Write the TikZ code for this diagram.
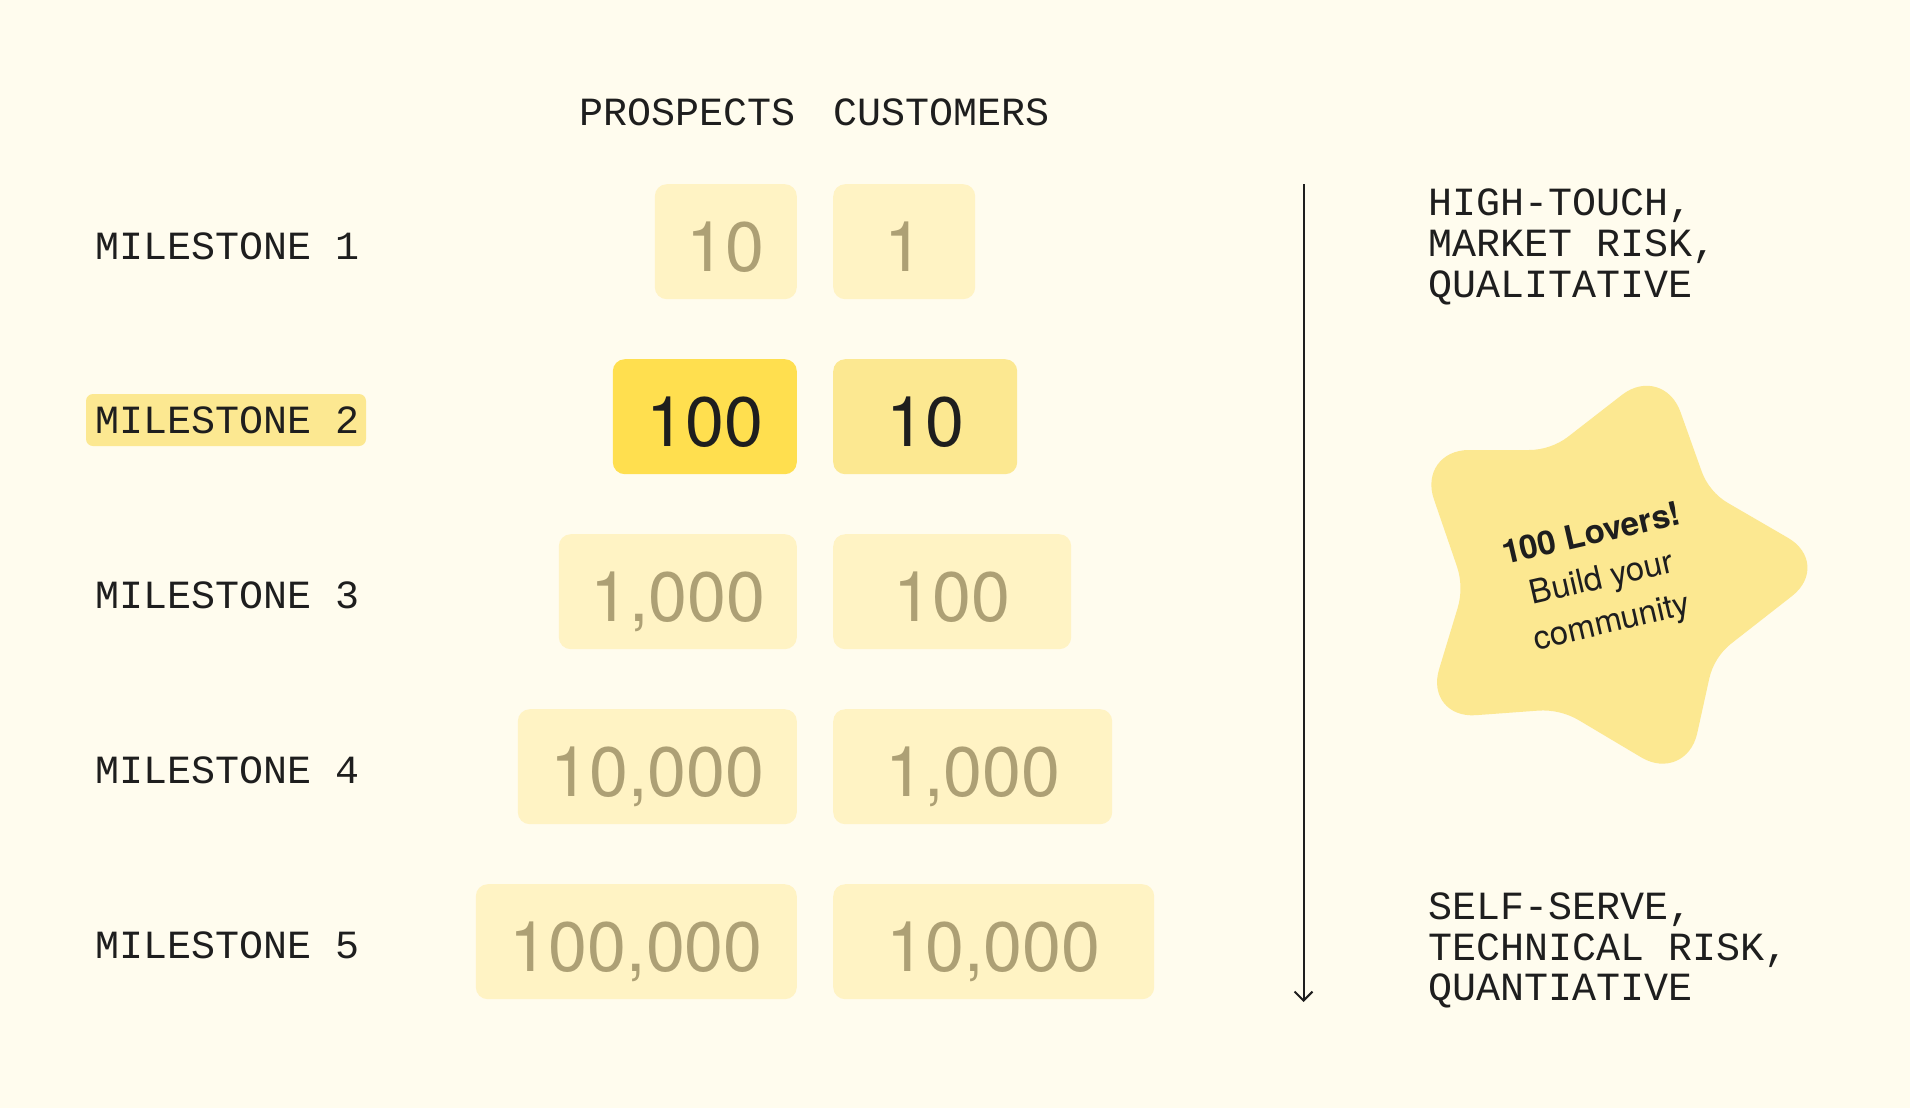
\documentclass[tikz,border=0pt]{standalone}
\usepackage{fontspec}
\usetikzlibrary{calc,arrows.meta}
\newfontfamily\monofont{Liberation Mono}
\newfontfamily\numfont{TeX Gyre Heros}
\definecolor{bg}{HTML}{FFFCEE}
\definecolor{boxlight}{HTML}{FFF3C4}
\definecolor{boxmid}{HTML}{FCE891}
\definecolor{boxbright}{HTML}{FFDF4F}
\definecolor{numgrey}{HTML}{ADA075}
\definecolor{ink}{HTML}{1E1E1E}
\begin{document}
\begin{tikzpicture}[x=1pt,y=-1pt,
  lbl/.style={font=\monofont\fontsize{40}{41}\selectfont, text=ink, inner sep=0pt},
  numbox/.style={rounded corners=12pt, fill=boxlight, text=numgrey, minimum height=115pt,
    inner sep=0pt, text height=70pt, text depth=10pt, font=\numfont\fontsize{70}{70}\selectfont},
  pbox/.style={numbox, anchor=north east},
  cbox/.style={numbox, anchor=north west},
  hot/.style={fill=boxbright, text=ink},
  warm/.style={fill=boxmid, text=ink},
  hilite/.style={fill=boxmid, rounded corners=7pt, inner sep=0pt},
  startext/.style={font=\numfont\fontsize{33}{45}\selectfont, text=ink, align=center, rotate=13, inner sep=0pt}
]
\useasboundingbox (0,0) rectangle (1910,1108);
\fill[bg] (0,0) rectangle (1910,1108);

% column headers
\node[lbl, anchor=base east] (hprosp) at (796,125) {PROSPECTS};
\node[lbl, anchor=base west] (hcust) at (833,125) {CUSTOMERS};

% milestone labels
\node[hilite, minimum width=280pt, minimum height=52pt] (m2bg) at (226,420) {};
\node[lbl, anchor=base west] (m1) at (95,259) {MILESTONE 1};
\node[lbl, anchor=base west] (m2) at (95,433.5) {MILESTONE 2};
\node[lbl, anchor=base west] (m3) at (95,608) {MILESTONE 3};
\node[lbl, anchor=base west] (m4) at (95,783) {MILESTONE 4};
\node[lbl, anchor=base west] (m5) at (95,958) {MILESTONE 5};

% prospects
\node[pbox, minimum width=142pt] (p1) at (797,184) {10};
\node[pbox, hot, minimum width=184pt] (p2) at (797,359) {100};
\node[pbox, minimum width=238pt] (p3) at (797,534) {1,000};
\node[pbox, minimum width=279pt] (p4) at (797,709) {10,000};
\node[pbox, minimum width=321pt] (p5) at (797,884) {100,000};

% customers
\node[cbox, minimum width=142pt] (c1) at (833,184) {1};
\node[cbox, warm, minimum width=184pt] (c2) at (833,359) {10};
\node[cbox, minimum width=238pt] (c3) at (833,534) {100};
\node[cbox, minimum width=279pt] (c4) at (833,709) {1,000};
\node[cbox, minimum width=321pt] (c5) at (833,884) {10,000};

% arrow
\coordinate (atop) at (1303.5,184);
\coordinate (abot) at (1303.5,1002);
\draw[ink, line width=2pt, -{Straight Barb[length=9pt,width=18pt]}] (atop) -- (abot);

% right texts
\node[lbl, anchor=base west] (t1) at (1428,215) {HIGH-TOUCH,};
\node[lbl, anchor=base west] (t2) at (1428,256) {MARKET RISK,};
\node[lbl, anchor=base west] (t3) at (1428,297) {QUALITATIVE};
\node[lbl, anchor=base west] (b1) at (1428,919) {SELF-SERVE,};
\node[lbl, anchor=base west] (b2) at (1428,960) {TECHNICAL RISK,};
\node[lbl, anchor=base west] (b3) at (1428,1000) {QUANTIATIVE};

% star
\coordinate (sT) at (1663,363);
\coordinate (siUR) at (1709,492);
\coordinate (sR) at (1833,564);
\coordinate (siLR) at (1714,657);
\coordinate (sB) at (1686,784);
\coordinate (siLL) at (1560,709);
\coordinate (sLL) at (1424,719);
\coordinate (siL) at (1464,587);
\coordinate (sUL) at (1417,450);
\coordinate (siUL) at (1551,450);
\fill[boxmid]
  ($(sT)!52pt!(siUL)$) .. controls ($(sT)!24pt!(siUL)$) and ($(sT)!24pt!(siUR)$) .. ($(sT)!52pt!(siUR)$)
  -- ($(siUR)!22pt!(sT)$) .. controls ($(siUR)!8pt!(sT)$) and ($(siUR)!8pt!(sR)$) .. ($(siUR)!22pt!(sR)$)
  -- ($(sR)!52pt!(siUR)$) .. controls ($(sR)!24pt!(siUR)$) and ($(sR)!24pt!(siLR)$) .. ($(sR)!52pt!(siLR)$)
  -- ($(siLR)!22pt!(sR)$) .. controls ($(siLR)!8pt!(sR)$) and ($(siLR)!8pt!(sB)$) .. ($(siLR)!22pt!(sB)$)
  -- ($(sB)!52pt!(siLR)$) .. controls ($(sB)!24pt!(siLR)$) and ($(sB)!24pt!(siLL)$) .. ($(sB)!52pt!(siLL)$)
  -- ($(siLL)!22pt!(sB)$) .. controls ($(siLL)!8pt!(sB)$) and ($(siLL)!8pt!(sLL)$) .. ($(siLL)!22pt!(sLL)$)
  -- ($(sLL)!52pt!(siLL)$) .. controls ($(sLL)!24pt!(siLL)$) and ($(sLL)!24pt!(siL)$) .. ($(sLL)!52pt!(siL)$)
  -- ($(siL)!22pt!(sLL)$) .. controls ($(siL)!8pt!(sLL)$) and ($(siL)!8pt!(sUL)$) .. ($(siL)!22pt!(sUL)$)
  -- ($(sUL)!52pt!(siL)$) .. controls ($(sUL)!24pt!(siL)$) and ($(sUL)!24pt!(siUL)$) .. ($(sUL)!52pt!(siUL)$)
  -- ($(siUL)!22pt!(sUL)$) .. controls ($(siUL)!8pt!(sUL)$) and ($(siUL)!8pt!(sT)$) .. ($(siUL)!22pt!(sT)$)
  -- cycle;
\node[startext] (star) at (1602,580) {{\bfseries 100 Lovers!}\\Build your\\community};
\end{tikzpicture}
\end{document}
